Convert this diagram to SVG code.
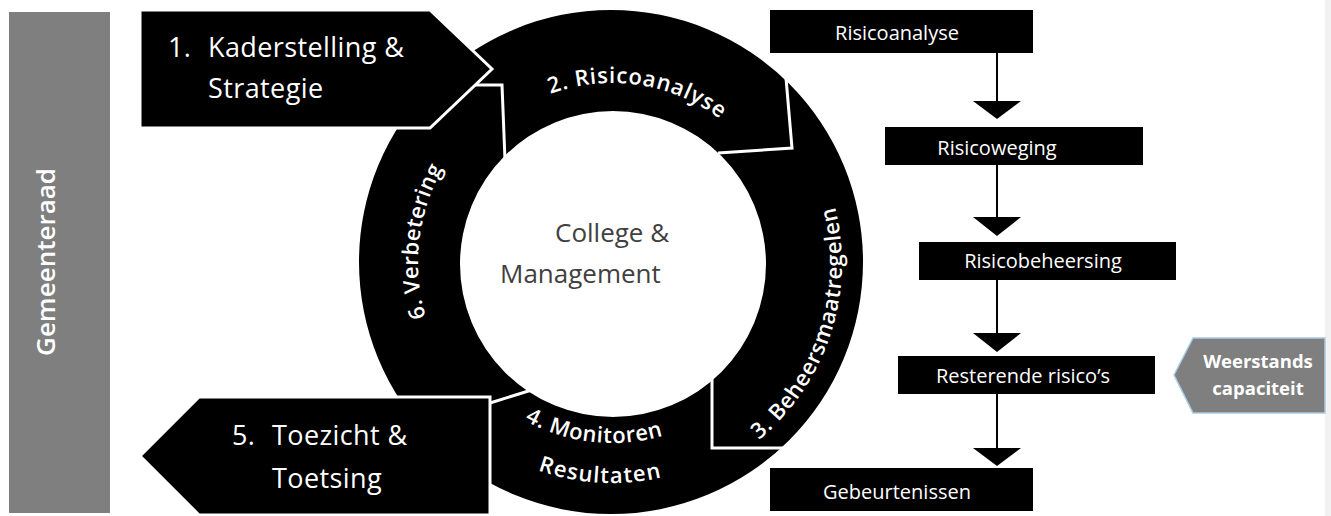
<svg xmlns="http://www.w3.org/2000/svg" width="1331" height="516" viewBox="0 0 1331 516">
  <style>
    .lbl { font-family: "Open Sans", "Liberation Sans", sans-serif; fill: #ffffff; }
    .ring-t { font-size: 22px; font-weight: 600; }
    .big { font-size: 27px; font-weight: 400; letter-spacing: 0.4px; }
    .box { fill: #000000; }
    .box-t { font-family: "Open Sans", "Liberation Sans", sans-serif; font-size: 20px; fill: #ffffff; text-anchor: middle; }
    .sep { fill: none; stroke: #ffffff; stroke-width: 3; stroke-linejoin: miter; }
    .flow { stroke: #000000; stroke-width: 2; fill: none; }
    .head { fill: #000000; }
  </style>
  <defs>
    <path id="arc2" d="M 517.9 109.5 A 180 180 0 0 1 746.8 143.7"/>
    <path id="arc3" d="M 716.4 467.9 A 230 230 0 0 0 816.9 158.6"/>
    <path id="arc4a" d="M 482.1 387.6 A 180 180 0 0 0 712.1 412.6"/>
    <path id="arc4b" d="M 461.4 423.4 A 220 220 0 0 0 743.8 439.2"/>
    <path id="arc6" d="M 471.3 396.5 A 194 194 0 0 1 504.9 101.2"/>
  </defs>

  <rect x="0" y="0" width="1331" height="516" fill="#ffffff"/>
  <rect x="1325" y="0" width="6" height="516" fill="#f2f2f2"/>

  <!-- council bar -->
  <g id="gemeenteraad">
    <rect x="9" y="12" width="101" height="501" fill="#7f7f7f"/>
    <text class="lbl" transform="translate(55,262) rotate(-90)" text-anchor="middle" font-size="26" font-weight="600">Gemeenteraad</text>
  </g>

  <!-- cycle ring -->
  <g id="cycle">
    <path fill="#000000" fill-rule="evenodd"
      d="M 359 262 A 252 252 0 1 1 863 262 A 252 252 0 1 1 359 262 Z
         M 460 264 A 153 153 0 1 0 766 264 A 153 153 0 1 0 460 264 Z"/>
    <!-- segment separators -->
    <polyline class="sep" points="474,85 502,85 505,160"/>
    <polyline class="sep" points="786,78 792,148 718,153"/>
    <polyline class="sep" points="712,376 712,448 784,448"/>
    <polyline class="sep" points="490,403 538,388"/>
  </g>

  <g id="step1">
    <polygon points="140,10 430,10 492,69 430,128 140,128" fill="#000000" stroke="#ffffff" stroke-width="3"/>
    <text class="lbl big" x="168" y="57">1.</text>
    <text class="lbl big" x="208" y="57">Kaderstelling &amp;</text>
    <text class="lbl big" x="208" y="98">Strategie</text>
  </g>

  <g id="step5">
    <polygon points="199,397 490,397 490,515 199,515 140,456" fill="#000000" stroke="#ffffff" stroke-width="3"/>
    <text class="lbl big" x="232" y="445">5.</text>
    <text class="lbl big" x="272" y="445">Toezicht &amp;</text>
    <text class="lbl big" x="272" y="488">Toetsing</text>
  </g>

  <g id="step2">
    <text class="lbl ring-t" letter-spacing="0.8"><textPath href="#arc2" startOffset="50%" text-anchor="middle">2. Risicoanalyse</textPath></text>
  </g>
  <g id="step3">
    <text class="lbl ring-t" letter-spacing="0.6"><textPath href="#arc3" startOffset="50%" text-anchor="middle">3. Beheersmaatregelen</textPath></text>
  </g>
  <g id="step4">
    <text class="lbl ring-t" font-size="20" letter-spacing="0.6"><textPath href="#arc4a" startOffset="50%" text-anchor="middle">4. Monitoren</textPath></text>
    <text class="lbl ring-t" font-size="20" letter-spacing="1.2"><textPath href="#arc4b" startOffset="50%" text-anchor="middle">Resultaten</textPath></text>
  </g>
  <g id="step6">
    <text class="lbl ring-t" letter-spacing="0.3"><textPath href="#arc6" startOffset="50%" text-anchor="middle">6. Verbetering</textPath></text>
  </g>

  <g id="centre">
    <text font-family="'Open Sans', 'Liberation Sans', sans-serif" font-size="26" fill="#404040" x="555" y="242">College &amp;</text>
    <text font-family="'Open Sans', 'Liberation Sans', sans-serif" font-size="26" fill="#404040" x="500" y="283">Management</text>
  </g>

  <!-- risk chain connectors -->
  <g id="connectors">
    <line class="flow" x1="997" y1="53" x2="997" y2="102"/>
    <polygon class="head" points="973,101 1021,101 997,119"/>
    <line class="flow" x1="997" y1="165" x2="997" y2="218"/>
    <polygon class="head" points="973,217 1021,217 997,236"/>
    <line class="flow" x1="997" y1="280" x2="997" y2="334"/>
    <polygon class="head" points="973,333 1021,333 997,352"/>
    <line class="flow" x1="997" y1="394" x2="997" y2="449"/>
    <polygon class="head" points="973,448 1021,448 997,466"/>
  </g>

  <g id="risicoanalyse">
    <rect class="box" x="770" y="10" width="263" height="43"/>
    <text class="box-t" x="897" y="40">Risicoanalyse</text>
  </g>
  <g id="risicoweging">
    <rect class="box" x="885" y="127" width="258" height="38"/>
    <text class="box-t" x="997" y="155">Risicoweging</text>
  </g>
  <g id="risicobeheersing">
    <rect class="box" x="919" y="242" width="257" height="38"/>
    <text class="box-t" x="1043" y="268">Risicobeheersing</text>
  </g>
  <g id="resterende">
    <rect class="box" x="898" y="356" width="257" height="38"/>
    <text class="box-t" x="1023" y="383">Resterende risico’s</text>
  </g>
  <g id="gebeurtenissen">
    <rect class="box" x="770" y="468" width="263" height="43"/>
    <text class="box-t" x="897" y="499">Gebeurtenissen</text>
  </g>

  <g id="weerstand">
    <polygon points="1174,375 1193,338 1325,338 1325,413 1193,413" fill="#7f7f7f" stroke="#a9cce3" stroke-width="1.5"/>
    <text class="lbl" x="1258" y="368" text-anchor="middle" font-size="18.5" font-weight="700">Weerstands</text>
    <text class="lbl" x="1258" y="395" text-anchor="middle" font-size="18.5" font-weight="700">capaciteit</text>
  </g>
</svg>
